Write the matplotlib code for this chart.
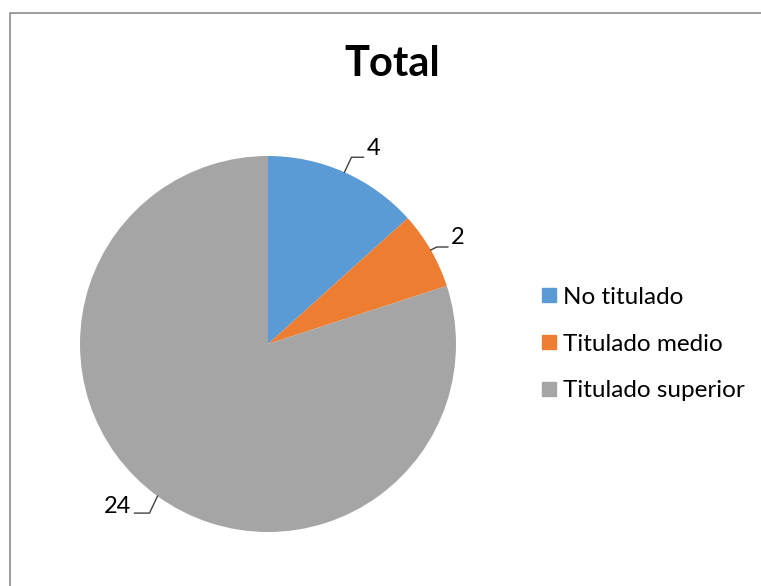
import numpy as np
import matplotlib.pyplot as plt
from matplotlib.lines import Line2D

plt.rcParams['font.family'] = ['Lato', 'DejaVu Sans']

categories = ['No titulado', 'Titulado medio', 'Titulado superior']
values = [4, 2, 24]
colors = ['#5B9BD5', '#ED7D31', '#A5A5A5']
title = 'Total'

W, H = 761, 586
fig = plt.figure(figsize=(W / 100, H / 100), dpi=100)
ax = fig.add_axes([0, 0, 1, 1])

# frame (only top and left edges visible in the screenshot)
ax.plot([10, 10, W], [0, H - 13, H - 13], color='#8c8c8c', lw=1.2, solid_capstyle='butt')

cx, cy, r = 268, H - 344, 188
wedges, _ = ax.pie(values, colors=colors, startangle=90, counterclock=False,
                   center=(cx, cy), radius=r, frame=True,
                   wedgeprops=dict(linewidth=0))
ax.set_xlim(0, W)
ax.set_ylim(0, H)
ax.set_aspect('equal')
ax.axis('off')

# leader lines: (dx, dy) kink from edge, horizontal length, label offset
leaders = [((7, 15), 12, (8, 9)), ((6, 3), 11, (8, 10)), ((-8, -17), -15, (-17, 7))]
for val, w, (kink, hlen, loff) in zip(values, wedges, leaders):
    ang = np.deg2rad((w.theta1 + w.theta2) / 2)
    x0, y0 = cx + r * np.cos(ang), cy + r * np.sin(ang)
    x1, y1 = x0 + kink[0], y0 + kink[1]
    x2 = x1 + hlen
    ax.plot([x0, x1, x2], [y0, y1, y1], color='#404040', lw=1)
    ha = 'left' if hlen > 0 else 'right'
    ax.text(x2 + (3 if hlen > 0 else -3), y1 + loff[1], str(val), fontsize=17,
            ha=ha, va='center', color='#000000')

ax.text(392, H - 64, title, fontsize=30, fontweight='bold', ha='center', va='center')

handles = [Line2D([], [], marker='s', ls='', markersize=10, markerfacecolor=c,
                  markeredgecolor=c) for c in colors]
leg = ax.legend(handles, categories, loc='center left',
                bbox_to_anchor=(533 / W, 1 - 344 / H), frameon=False,
                fontsize=17.5, labelspacing=1.05, handlelength=0.5,
                handletextpad=0.35, borderaxespad=0)

fig.savefig('out.png', dpi=100)
